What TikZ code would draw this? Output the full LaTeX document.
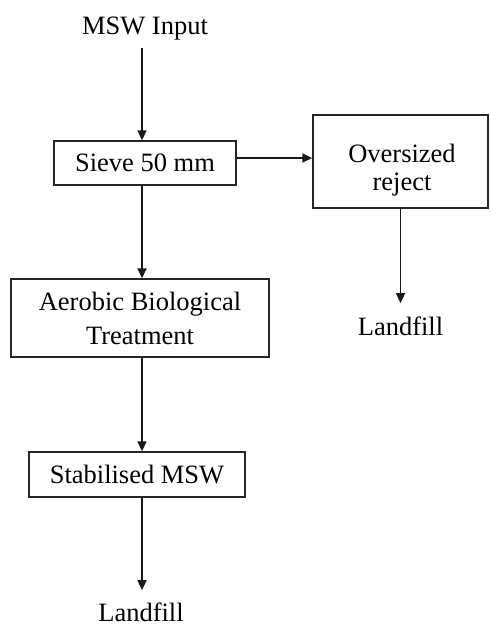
\documentclass[tikz,border=0pt]{standalone}
\usepackage{fontspec}
\setmainfont{Liberation Serif}
\usetikzlibrary{arrows.meta}
\begin{document}
\begin{tikzpicture}[x=1pt,y=-1pt,
  boxnode/.style={draw=black!85, line width=1.4pt, inner sep=0pt, font=\fontsize{26.5}{28}\selectfont},
  txt/.style={inner sep=0pt, font=\fontsize{26.5}{28}\selectfont, align=center},
  arr/.style={draw=black!90, line width=1.6pt, -{Triangle[length=10pt,width=9pt]}}]
\useasboundingbox (0,0) rectangle (490,628);
\coordinate (col) at (142,0);
\node[txt, anchor=base] (msw) at (145,35) {MSW Input};
\node[boxnode, minimum width=182pt, minimum height=44pt] (sieve) at (145,163) {Sieve 50 mm};
\node[boxnode, minimum width=175pt, minimum height=93pt] (over) at (400.5,161.5) {};
\node[txt] (overtxt) at (402,170) {Oversized\\reject};
\node[txt, anchor=base] (lf1) at (400.5,335) {Landfill};
\node[boxnode, minimum width=258pt, minimum height=78pt, align=center, font=\fontsize{26.5}{34}\selectfont] (aer) at (140,318) {Aerobic Biological\\Treatment};
\node[boxnode, minimum width=216pt, minimum height=45pt] (stab) at (137,474.5) {Stabilised MSW};
\node[txt, anchor=base] (lf2) at (141,621) {Landfill};
\draw[arr, shorten <=7pt] (msw.south -| col) -- (sieve.north -| col);
\draw[arr] (sieve.south -| col) -- (aer.north -| col);
\draw[arr] (aer.south -| col) -- (stab.north -| col);
\draw[arr, shorten >=12pt] (stab.south -| col) -- (lf2.north -| col);
\draw[arr] ([yshift=5pt]sieve.east) -- ([yshift=5pt]sieve.east -| over.west);
\draw[arr, shorten >=13pt] (over.south) -- (over.south |- lf1.north);
\end{tikzpicture}
\end{document}
